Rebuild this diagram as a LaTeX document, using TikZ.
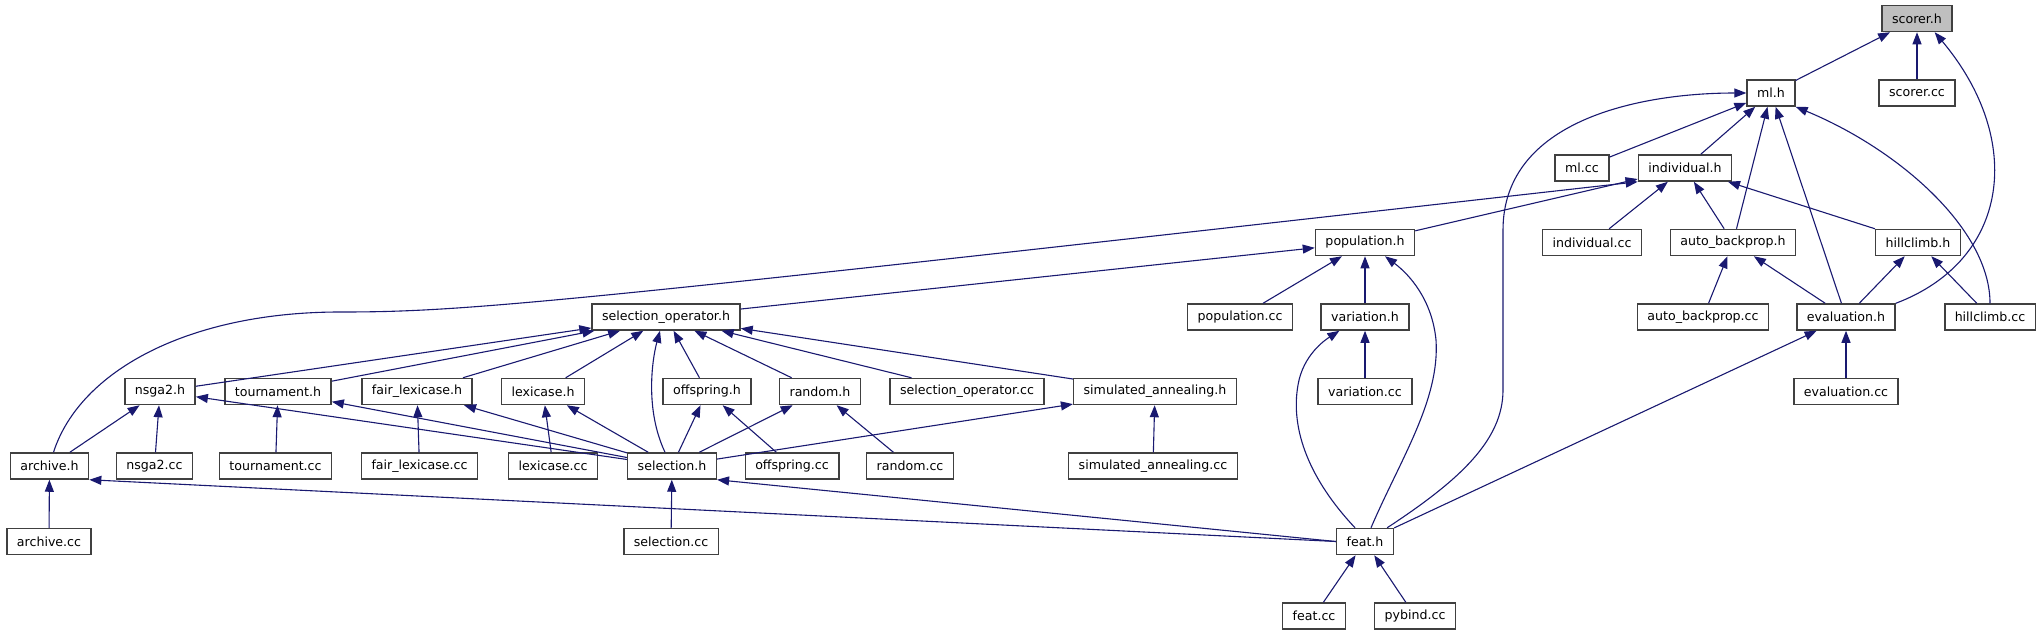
\documentclass[tikz,border=0pt]{standalone}
\usepackage{fontspec}
\setmainfont{DejaVu Sans}
\usetikzlibrary{arrows.meta}
\definecolor{cedge}{HTML}{191970}
\definecolor{cframe}{HTML}{404040}
\definecolor{cfocus}{HTML}{BFBFBF}
\tikzset{
  every picture/.style={font=\fontsize{12.6}{14}\selectfont},
  file/.style={draw=cframe, fill=white, line width=1.5pt, minimum height=26pt, inner xsep=10pt, inner ysep=0pt},
  dep/.style={-{Triangle[length=12pt, width=9pt]}, draw=cedge, line width=1.1pt},
}
\begin{document}
\begin{tikzpicture}[x=1pt, y=-1pt, f/.style={file}, top/.style={file, fill=cfocus}]
  \useasboundingbox (0,0) rectangle (2044,635);
  % top rows
  \node[top] (scorerh) at (1917,18.5) {scorer.h};
  \node[f] (mlh) at (1771,93) {ml.h};
  \node[f] (scorercc) at (1917,93) {scorer.cc};
  \node[f] (mlcc) at (1582,168) {ml.cc};
  \node[f] (individualh) at (1685,168) {individual.h};
  \foreach \n/\t/\x in {populationh/population.h/1365, individualcc/individual.cc/1592, autobph/auto\_backprop.h/1733, hillclimbh/hillclimb.h/1918}
    \node[f] (\n) at (\x,242.5) {\t};
  \foreach \n/\t/\x in {selopsh/selection\_operator.h/666, populationcc/population.cc/1240, variationh/variation.h/1365, autobpcc/auto\_backprop.cc/1703, evaluationh/evaluation.h/1846, hillclimbcc/hillclimb.cc/1990}
    \node[f] (\n) at (\x,317) {\t};
  % selection operators
  \foreach \n/\t/\x in {nsga2h/nsga2.h/160, tournamenth/tournament.h/278, fairlexh/fair\_lexicase.h/417, lexicaseh/lexicase.h/543, offspringh/offspring.h/707, randomh/random.h/820, selopscc/selection\_operator.cc/967, simannh/simulated\_annealing.h/1155, variationcc/variation.cc/1365, evaluationcc/evaluation.cc/1846}
    \node[f] (\n) at (\x,391.5) {\t};
  \foreach \n/\t/\x in {archiveh/archive.h/49.5, nsga2cc/nsga2.cc/154.5, tournamentcc/tournament.cc/275.5, fairlexcc/fair\_lexicase.cc/419.5, lexicasecc/lexicase.cc/553, selectionh/selection.h/672, offspringcc/offspring.cc/792, randomcc/random.cc/910, simanncc/simulated\_annealing.cc/1153}
    \node[f] (\n) at (\x,466) {\t};
  % bottom rows
  \node[f] (archivecc) at (49,541.5) {archive.cc};
  \node[f] (selectioncc) at (671,541.5) {selection.cc};
  \node[f] (feath) at (1365,541.5) {feat.h};
  \node[f] (featcc) at (1314,616) {feat.cc};
  \node[f] (pybindcc) at (1415,616) {pybind.cc};
  % straight edges
  \foreach \a/\b in {mlh/scorerh, scorercc/scorerh, mlcc/mlh, individualh/mlh, autobph/mlh, evaluationh/mlh,
      populationh/individualh, individualcc/individualh, autobph/individualh, hillclimbh/individualh,
      selopsh/populationh, populationcc/populationh, variationh/populationh,
      autobpcc/autobph, evaluationh/autobph, evaluationh/hillclimbh, hillclimbcc/hillclimbh,
      nsga2h/selopsh, tournamenth/selopsh, fairlexh/selopsh, lexicaseh/selopsh, offspringh/selopsh,
      randomh/selopsh, selopscc/selopsh, simannh/selopsh,
      variationcc/variationh, evaluationcc/evaluationh, feath/evaluationh,
      archiveh/nsga2h, nsga2cc/nsga2h, selectionh/nsga2h, tournamentcc/tournamenth, selectionh/tournamenth,
      fairlexcc/fairlexh, selectionh/fairlexh, lexicasecc/lexicaseh, selectionh/lexicaseh,
      selectionh/offspringh, offspringcc/offspringh, selectionh/randomh, randomcc/randomh,
      selectionh/simannh, simanncc/simannh, archivecc/archiveh, selectioncc/selectionh,
      featcc/feath, pybindcc/feath}
    \draw[dep] (\a) -- (\b);
  \draw[dep] (feath.west) -- (archiveh.south east);
  \draw[dep] (feath.west) -- (selectionh.south east);
  % curved edges
  \draw[dep] (evaluationh.north east) .. controls (2010,260) and (2025,140) .. ([xshift=-18pt]scorerh.south east);
  \draw[dep] (hillclimbcc.north) .. controls (1990,230) and (1900,150) .. (mlh.south east);
  \draw[dep] ([xshift=-7pt]feath.north east) .. controls (1460,480) and (1503,440) .. (1503,390) -- (1503,230)
    .. controls (1503,120) and (1640,93) .. (mlh.west);
  \draw[dep] ([xshift=6pt]feath.north) .. controls (1400,460) and (1440,400) .. (1436,340)
    .. controls (1432,300) and (1410,275) .. ([xshift=20pt]populationh.south);
  \draw[dep] ([xshift=-10pt]feath.north) .. controls (1310,480) and (1290,430) .. (1298,385)
    .. controls (1303,355) and (1325,340) .. ([xshift=19pt]variationh.south west);
  \draw[dep] ([xshift=-7pt]selectionh.north) .. controls (645,410) and (652,360) .. ([xshift=-6pt]selopsh.south);
  \draw[dep] ([xshift=4pt]archiveh.north) .. controls (80,370) and (190,312) .. (340,312)
    .. controls (470,312) and (560,303) .. (individualh.south west);
\end{tikzpicture}
\end{document}
